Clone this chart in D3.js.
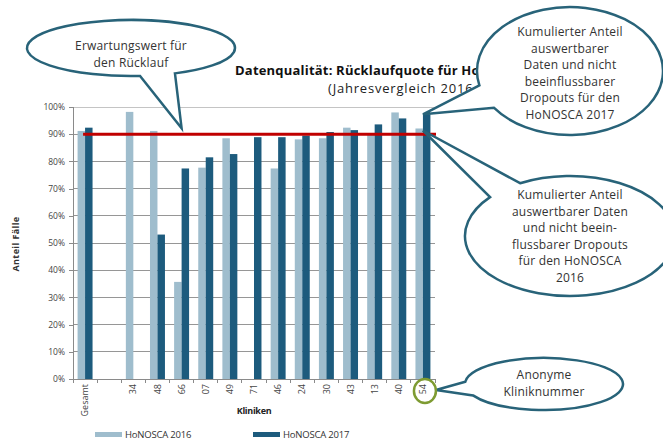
<!DOCTYPE html>
<html><head><meta charset="utf-8">
<script src="https://cdn.jsdelivr.net/npm/d3@7"></script>
<style>
body{margin:0;background:#fff;}
svg{display:block;font-family:"Open Sans","Noto Sans",sans-serif;}
</style></head><body>
<svg id="chart" width="663" height="441"></svg>
<script>
// Rücklaufquote je Klinik, Anteil Fälle in %
const categories = ["Gesamt", "", "34", "48", "66", "07", "49", "71", "46", "24", "30", "43", "13", "40", "54"];
const honosca2016 = [91.2, null, 98.2, 91.2, 35.7, 77.7, 88.5, null, 77.4, 88.1, 88.5, 92.4, 89.8, 98.0, 92.1];
const honosca2017 = [92.4, null, null, 53.1, 77.4, 81.5, 82.7, 88.9, 88.9, 89.5, 90.8, 91.5, 93.6, 95.8, 97.3];
const seriesNames = ["HoNOSCA 2016", "HoNOSCA 2017"];
const yTicks = [0, 10, 20, 30, 40, 50, 60, 70, 80, 90, 100];
const expectedValue = 90;

const colors = ["#9fbdcd", "#1d5b7d"];
const calloutStroke = "#286379";

const svg = d3.select("#chart");
const series = [honosca2016, honosca2017];

const x = d3.scaleBand().domain(d3.range(categories.length)).range([73, 435]);
const groupW = x.bandwidth() * 0.62;
const groupOff = (x.bandwidth() - groupW) / 2;
const sub = d3.scaleBand().domain([0, 1]).range([0, groupW]);
const y = d3.scaleLinear().domain([0, 100]).range([379, 107]);

// Gitternetz
svg.append("g").selectAll("line").data(yTicks.filter(d => d > 0)).join("line")
  .attr("x1", 73).attr("x2", 435)
  .attr("y1", d => y(d)).attr("y2", d => y(d))
  .attr("stroke", d => d === 100 ? "#c4c4c4" : "#969696").attr("stroke-width", 1)
  .attr("shape-rendering", "crispEdges");

// Y-Achse
const yAxis = svg.append("g").attr("transform", "translate(73,0)")
  .call(d3.axisLeft(y).tickValues(yTicks).tickSize(4).tickPadding(4).tickFormat(d => d + "%"));
yAxis.selectAll("path,line").attr("stroke", "#8a8a8a").attr("shape-rendering", "crispEdges");
yAxis.selectAll("text").attr("font-size", 8.5).attr("fill", "#444").attr("font-family", "'Open Sans',sans-serif");

// Balken
series.forEach((vals, s) => {
  svg.append("g").selectAll("rect")
    .data(vals.map((v, i) => ({ v, i })).filter(d => d.v != null)).join("rect")
    .attr("x", d => x(d.i) + groupOff + sub(s))
    .attr("width", sub.bandwidth())
    .attr("y", d => y(d.v))
    .attr("height", d => y(0) - y(d.v))
    .attr("fill", colors[s]);
});

// X-Achse: Teilstriche zwischen den Kliniken, Beschriftung gedreht
const xAxis = svg.append("g").attr("transform", "translate(0,379)")
  .call(d3.axisBottom(x).tickSize(0).tickPadding(0).tickFormat(i => categories[i]));
xAxis.select("path").attr("stroke", "#8a8a8a").attr("d", "M73,0.5H435");
xAxis.selectAll("text")
  .attr("transform", "rotate(-90)")
  .attr("text-anchor", "end")
  .attr("x", -5).attr("y", 0).attr("dy", "0.35em")
  .attr("font-size", 9).attr("fill", "#444").attr("font-family", "'Open Sans',sans-serif");
svg.append("g").selectAll("line").data(d3.range(categories.length + 1)).join("line")
  .attr("x1", i => 73 + i * x.step()).attr("x2", i => 73 + i * x.step())
  .attr("y1", 379).attr("y2", 383)
  .attr("stroke", "#8a8a8a").attr("shape-rendering", "crispEdges");

// Erwartungswert
svg.append("line")
  .attr("x1", x(0) + x.bandwidth() / 2 - 2).attr("x2", 436)
  .attr("y1", y(expectedValue)).attr("y2", y(expectedValue))
  .attr("stroke", "#c00000").attr("stroke-width", 3);

// Achsentitel
svg.append("text").attr("transform", "translate(19,244) rotate(-90)")
  .attr("text-anchor", "middle").attr("font-size", 9).attr("font-weight", "bold")
  .attr("fill", "#333").attr("letter-spacing", 0.4).text("Anteil Fälle");
svg.append("text").attr("x", 254).attr("y", 414)
  .attr("text-anchor", "middle").attr("font-size", 9).attr("font-weight", "bold")
  .attr("fill", "#222").attr("letter-spacing", -0.3).text("Kliniken");

// Titel
svg.append("text").attr("x", 235).attr("y", 75)
  .attr("font-size", 13).attr("font-weight", "bold").attr("fill", "#111")
  .attr("letter-spacing", 0.2).text("Datenqualität: Rücklaufquote für HoNOSCA");
svg.append("text").attr("x", 328).attr("y", 93)
  .attr("font-size", 13).attr("fill", "#222").attr("letter-spacing", 0.8)
  .text("(Jahresvergleich 2016 – 2017)");

// Legende
const legend = svg.append("g");
seriesNames.forEach((name, s) => {
  const lx = [95, 253][s];
  legend.append("rect").attr("x", lx).attr("y", 432).attr("width", 27).attr("height", 5).attr("fill", colors[s]);
  legend.append("text").attr("x", lx + 30).attr("y", 438).attr("font-size", 9.5)
    .attr("fill", "#333").attr("letter-spacing", -0.2).text(name);
});

// Sprechblasen
function bubble(cx, cy, rx, ry, a1, a2, tip) {
  const r = Math.PI / 180;
  const A = [cx + rx * Math.cos(a1 * r), cy + ry * Math.sin(a1 * r)];
  const B = [cx + rx * Math.cos(a2 * r), cy + ry * Math.sin(a2 * r)];
  const sweep = a1 > a2 ? 0 : 1;
  return `M${A}L${tip}L${B}A${rx},${ry} 0 1 ${sweep} ${A}Z`;
}
function callout(cx, cy, rx, ry, a1, a2, tip, lines, baseY, lh) {
  svg.append("path").attr("d", bubble(cx, cy, rx, ry, a1, a2, tip))
    .attr("fill", "#fff").attr("stroke", calloutStroke).attr("stroke-width", 2.5)
    .attr("stroke-linejoin", "miter");
  const t = svg.append("text").attr("text-anchor", "middle").attr("font-size", 12)
    .attr("letter-spacing", 0.2).attr("fill", "#333");
  lines.forEach((l, k) => t.append("tspan").attr("x", cx).attr("y", baseY + k * lh).text(l));
}

const last = categories.length - 1;
const lightRight = x(last) + groupOff + sub(0) + sub.bandwidth();
const labelCx = x(last) + x.bandwidth() / 2 + 2;

callout(131, 48, 104, 28, 65, 85, [x(4) + x.bandwidth() / 2, y(expectedValue) - 6],
  ["Erwartungswert für", "den Rücklauf"], 50, 17);
callout(570, 71, 93, 64, 167, 145, [lightRight, y(honosca2017[last])],
  ["Kumulierter Anteil", "auswertbarer", "Daten und nicht", "beeinflussbarer", "Dropouts für den", "HoNOSCA 2017"], 36, 16.6);
callout(570, 236, 105, 60, 241.6, 220.4, [lightRight, y(honosca2016[last]) + 2],
  ["Kumulierter  Anteil", "auswertbarer Daten", "und nicht  beein-", "flussbarer Dropouts", "für den HoNOSCA", "2016"], 199, 16.6);
callout(544, 384, 79, 26, 185, 154, [labelCx + 11, 390],
  ["Anonyme", "Kliniknummer"], 379, 17);

// Markierung der Kliniknummer
svg.append("ellipse").attr("cx", labelCx).attr("cy", 391).attr("rx", 11).attr("ry", 12)
  .attr("fill", "none").attr("stroke", "#7e9b32").attr("stroke-width", 2.5);
</script>
</body></html>
